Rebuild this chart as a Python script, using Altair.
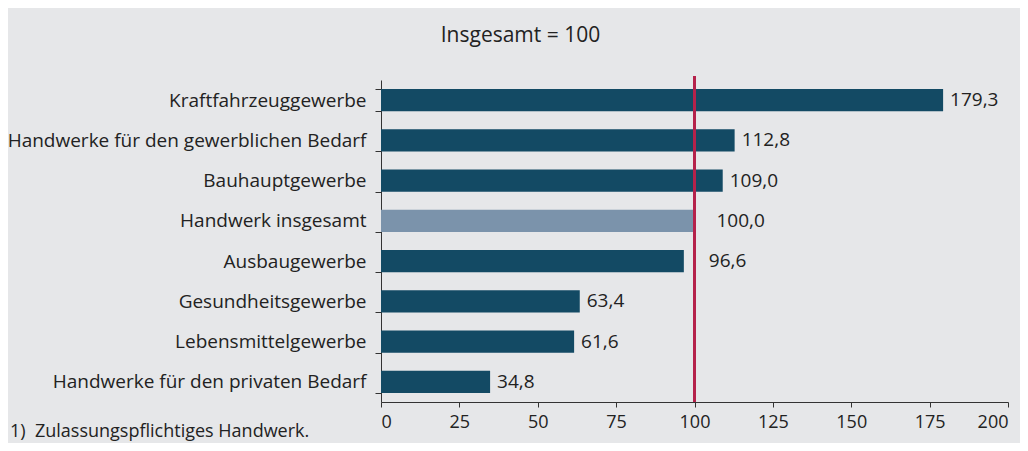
import altair as alt
import pandas as pd

categories = [
    "Kraftfahrzeuggewerbe",
    "Handwerke für den gewerblichen Bedarf",
    "Bauhauptgewerbe",
    "Handwerk insgesamt",
    "Ausbaugewerbe",
    "Gesundheitsgewerbe",
    "Lebensmittelgewerbe",
    "Handwerke für den privaten Bedarf",
]
values = [179.3, 112.8, 109.0, 100.0, 96.6, 63.4, 61.6, 34.8]
highlight = [False, False, False, True, False, False, False, False]
x_ticks = [0, 25, 50, 75, 100, 125, 150, 175, 200]
reference_value = 100
title_text = "Insgesamt = 100"
footnote = "1)\u00a0\u00a0Zulassungspflichtiges Handwerk."

df = pd.DataFrame({
    "cat": categories,
    "value": values,
    "hl": highlight,
    "label": [f"{v:.1f}".replace(".", ",") for v in values],
})

FONT = "Open Sans"
TXT = "#222222"
BG = "#e6e7e9"
FS = 19

base = alt.Chart(df)

y_enc = alt.Y(
    "cat:N", sort=categories, title=None,
    scale=alt.Scale(paddingInner=0.45, paddingOuter=0.225),
    axis=alt.Axis(
        tickBand="extent", tickSize=6, tickColor="#333333", domainColor="#333333",
        labelFont=FONT, labelFontSize=FS, labelColor=TXT, labelPadding=9,
        labelLimit=400,
    ),
)
x_enc = alt.X(
    "value:Q", title=None,
    scale=alt.Scale(domain=[0, 200], nice=False, zero=True),
    axis=alt.Axis(
        values=x_ticks, tickSize=5, tickColor="#333333", domainColor="#333333",
        labelFont=FONT, labelFontSize=18, labelColor=TXT, labelPadding=6,
        grid=False,
    ),
)

bars = base.mark_bar().encode(
    y=y_enc,
    x=x_enc,
    color=alt.Color("hl:N", scale=alt.Scale(domain=[False, True], range=["#134a64", "#7b93ab"]), legend=None),
)

lbl_normal = base.transform_filter("datum.value < 90 || datum.value > 100").mark_text(
    align="left", baseline="middle", dx=7, font=FONT, fontSize=FS, color=TXT
).encode(y=alt.Y("cat:N", sort=categories), x="value:Q", text="label:N")

lbl_eq = base.transform_filter("datum.value == 100").mark_text(
    align="left", baseline="middle", dx=22, font=FONT, fontSize=FS, color=TXT
).encode(y=alt.Y("cat:N", sort=categories), x="value:Q", text="label:N")

lbl_near = base.transform_filter("datum.value >= 90 && datum.value < 100").mark_text(
    align="left", baseline="middle", dx=25, font=FONT, fontSize=FS, color=TXT
).encode(y=alt.Y("cat:N", sort=categories), x="value:Q", text="label:N")

rule = alt.Chart(pd.DataFrame({"ref": [reference_value]})).mark_rule(
    color="#b5224b", strokeWidth=3
).encode(x="ref:Q", y=alt.value(-4), y2=alt.value(322))

foot = alt.Chart(pd.DataFrame({"t": [footnote]})).mark_text(
    align="left", baseline="alphabetic", font=FONT, fontSize=18, color=TXT
).encode(text="t:N", x=alt.value(-371), y=alt.value(357))

chart = alt.layer(bars, lbl_normal, lbl_eq, lbl_near, rule, foot).properties(
    width=627,
    height=322,
    background=BG,
    padding={"left": 373, "top": 72, "right": 12, "bottom": 41},
    autosize=alt.AutoSizeParams(type="none"),
    title=alt.Title(title_text, font=FONT, fontSize=21, fontWeight="normal",
                    color=TXT, anchor="middle", frame="group", dx=-174, offset=25),
).configure_view(stroke=None)

chart.save("out.html", embed_options={"renderer": "svg", "actions": False})
